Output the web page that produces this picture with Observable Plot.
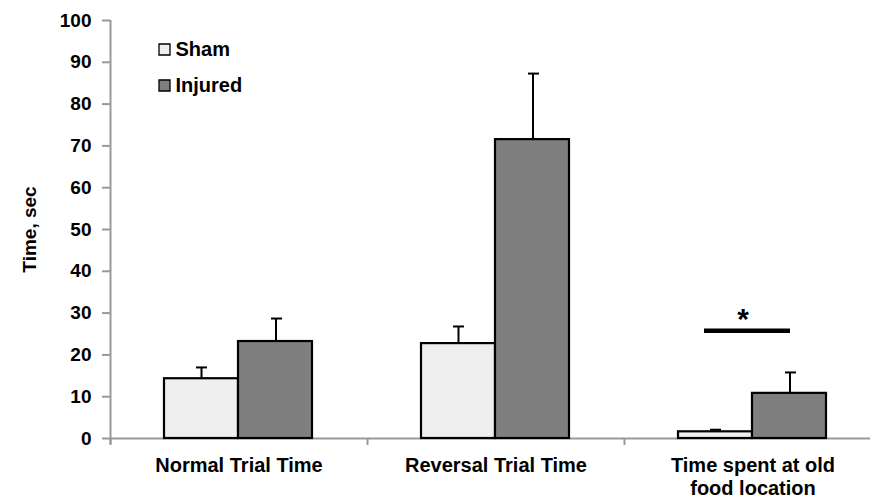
<!DOCTYPE html>
<html>
<head>
<meta charset="utf-8">
<script src="https://cdn.jsdelivr.net/npm/d3@7"></script>
<script src="https://cdn.jsdelivr.net/npm/@observablehq/plot@0.6"></script>
<style>
  html, body { margin: 0; padding: 0; background: white; overflow: hidden; }
  #chart { width: 870px; height: 501px; overflow: hidden; }
</style>
</head>
<body>
<div id="chart"></div>
<script>
const categories = ["Normal Trial Time", "Reversal Trial Time", "Time spent at old food location"];
const tickLabels = ["Normal Trial Time", "Reversal Trial Time", "Time spent at old\nfood location"];
const groups = ["Sham", "Injured"];
const shamMeans = [14.3, 22.7, 1.6];
const shamErrors = [2.7, 4.1, 0.5];
const injuredMeans = [23.2, 71.5, 10.8];
const injuredErrors = [5.5, 15.8, 5.0];
const yTicks = [0, 10, 20, 30, 40, 50, 60, 70, 80, 90, 100];
const significance = [{category: categories[2], value: 25.8, label: "*"}];

const colors = {Sham: "#efefef", Injured: "#7f7f7f"};

const rows = [];
categories.forEach((c, i) => {
  rows.push({category: c, group: groups[0], mean: shamMeans[i], top: shamMeans[i] + shamErrors[i]});
  rows.push({category: c, group: groups[1], mean: injuredMeans[i], top: injuredMeans[i] + injuredErrors[i]});
});
const sham = rows.filter(d => d.group === "Sham");
const injured = rows.filter(d => d.group === "Injured");

const font = "'Liberation Sans', Arial, Helvetica, sans-serif";
const step = 257;

const plot = Plot.plot({
  width: 870,
  height: 501,
  marginLeft: 110,
  marginRight: 0,
  marginTop: 20,
  marginBottom: 63,
  style: {fontFamily: font, fontWeight: "bold", background: "white"},
  x: {domain: categories, range: [110, 110 + 3 * step], padding: 0, axis: null},
  y: {domain: [0, 100], axis: null},
  marks: [
    // y axis
    Plot.axisY(yTicks, {tickSize: 8, tickPadding: 11, fontSize: 19, fontWeight: "bold", stroke: "#999", strokeWidth: 2, fill: "black", label: null}),
    Plot.ruleX([categories[0]], {dx: -step / 2, stroke: "#999", strokeWidth: 2, insetBottom: -6}),
    // x axis
    Plot.ruleY([0], {stroke: "#999", strokeWidth: 2}),
    Plot.axisX(categories, {tickSize: 7, dx: -step / 2, tickFormat: null, stroke: "#999", strokeWidth: 2, label: null}),
    Plot.axisX(categories, {tickSize: 0, tickPadding: 18, fontSize: 20, fontWeight: "bold", fill: "black", lineHeight: 1.12,
      tickFormat: d => tickLabels[categories.indexOf(d)], label: null}),
    // error bars
    Plot.ruleX(sham, {x: "category", y1: "mean", y2: "top", dx: -37.5, stroke: "black", strokeWidth: 2}),
    Plot.tickY(sham, {x: "category", y: "top", insetLeft: 86, insetRight: 160, stroke: "black", strokeWidth: 2}),
    Plot.ruleX(injured, {x: "category", y1: "mean", y2: "top", dx: 37, stroke: "black", strokeWidth: 2}),
    Plot.tickY(injured, {x: "category", y: "top", insetLeft: 161, insetRight: 85, stroke: "black", strokeWidth: 2}),
    // bars
    Plot.barY(sham, {x: "category", y: "mean", fill: colors.Sham, stroke: "black", strokeWidth: 2.2, insetLeft: 54, insetRight: 129}),
    Plot.barY(injured, {x: "category", y: "mean", fill: colors.Injured, stroke: "black", strokeWidth: 2.2, insetLeft: 128, insetRight: 55}),
    // significance
    Plot.tickY(significance, {x: "category", y: "value", insetLeft: 80, insetRight: 91, stroke: "black", strokeWidth: 4.5}),
    Plot.text(significance, {x: "category", y: "value", text: "label", dx: -10, dy: -11, fontSize: 30, fontWeight: "bold", fill: "black"}),
    // y label
    Plot.text(["Time, sec"], {frameAnchor: "left", dx: -81, rotate: -90, text: d => d, textAnchor: "middle", lineAnchor: "middle", fontSize: 19, fontWeight: "bold", fill: "black"}),
    // legend
    ...groups.flatMap((g, i) => [
      Plot.dot([g], {frameAnchor: "top-left", dx: 54, dy: 29 + i * 36, symbol: "square", r: 6.2, fill: colors[g], stroke: "black", strokeWidth: 1.3}),
      Plot.text([g], {frameAnchor: "top-left", dx: 65, dy: 29 + i * 36, text: d => d, textAnchor: "start", lineAnchor: "middle", fontSize: 20, fontWeight: "bold", fill: "black"})
    ])
  ]
});
document.getElementById("chart").appendChild(plot);
</script>
</body>
</html>
